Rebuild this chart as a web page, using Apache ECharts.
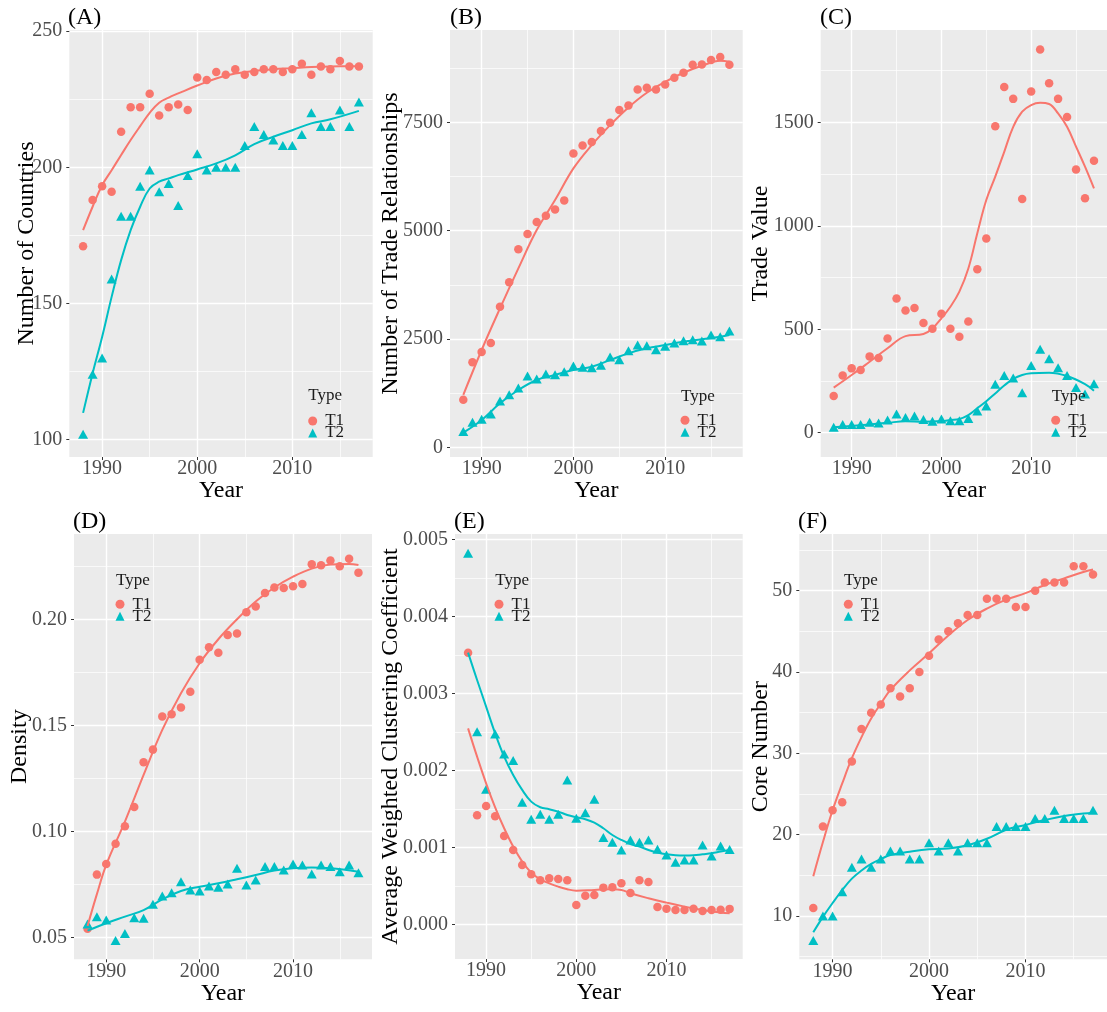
<!DOCTYPE html>
<html><head><meta charset="utf-8">
<script src="https://cdn.jsdelivr.net/npm/echarts@6/dist/echarts.min.js"></script>
<style>html,body{margin:0;padding:0;background:#fff}#c{width:1107px;height:1012px}</style>
</head><body><div id="c"></div>
<script>
// ---------------- DATA ----------------
const years = [1988,1989,1990,1991,1992,1993,1994,1995,1996,1997,1998,1999,2000,2001,2002,2003,2004,2005,2006,2007,2008,2009,2010,2011,2012,2013,2014,2015,2016,2017];
const seriesNames = ['T1', 'T2'];
const xTicks = [1990, 2000, 2010];

// (A) Number of Countries
const countriesT1 = [171,188,193,191,213,222,222,227,219,222,223,221,233,232,235,234,236,234,235,236,236,235,236,238,234,237,236,239,237,237];
const countriesT2 = [102,124,130,159,182,182,193,199,191,194,186,197,205,199,200,200,200,208,215,212,210,208,208,212,220,215,215,221,215,224];
const fitYearsA = [1988,1989,1990,1991,1992,1993,1994,1995,1996,1997,1998,2000,2002,2004,2006,2008,2010,2012,2014,2017];
const fitA_T1 = [176.9,185.5,193.4,198.9,204.5,210.0,215.1,220.0,223.7,225.6,227.1,230.0,232.6,234.4,235.4,236.0,236.4,236.8,237.0,237.1];
const fitA_T2 = [109.8,124.3,137.7,152.4,165.9,176.9,185.5,192.2,194.7,195.9,197.1,199.2,201.4,204.4,208.5,211.2,213.6,216.1,217.6,220.7];
const ticksA = [100,150,200,250];

// (B) Number of Trade Relationships
const relT1 = [1100,1962,2200,2408,3246,3808,4569,4923,5200,5346,5492,5700,6784,6969,7046,7300,7492,7784,7892,8261,8300,8261,8377,8530,8646,8830,8838,8938,9007,8830];
const relT2 = [362,577,646,769,1069,1215,1369,1646,1577,1692,1677,1746,1877,1846,1838,1892,2085,2023,2231,2361,2346,2254,2331,2408,2461,2485,2454,2592,2554,2685];
const fitYearsB = [1988,1990,1992,1994,1996,1998,2000,2002,2004,2006,2008,2010,2012,2014,2016,2017];
const fitB_T1 = [1208,2246,3208,4131,5015,5707,6438,6977,7438,7846,8184,8438,8646,8807,8923,8900];
const fitB_T2 = [338,631,1015,1323,1554,1669,1785,1861,2015,2169,2285,2361,2438,2492,2554,2592];
const ticksB = [0,2500,5000,7500];

// (C) Trade Value
const valT1 = [177,277,311,303,369,361,456,649,591,603,530,503,575,503,464,538,790,939,1482,1671,1614,1130,1650,1853,1689,1614,1526,1273,1134,1315];
const valT2 = [26,40,40,40,50,47,61,90,74,81,64,55,66,58,58,69,105,129,234,277,264,193,325,404,358,314,277,219,187,237];
const fitYearsC1 = [1988,1990,1992,1994,1996,1998,1999,2000,2001,2002,2003,2004,2005,2006,2007,2008,2009,2010,2011,2012,2013,2014,2015,2016,2017];
const fitC_T1 = [218,279,343,408,467,477,504,553,609,682,794,964,1125,1238,1358,1479,1552,1584,1595,1589,1544,1479,1383,1286,1181];
const fitYearsC2 = [1988,1990,1992,1994,1996,1998,2000,2001,2002,2003,2004,2005,2006,2007,2008,2009,2010,2012,2014,2016,2017];
const fitC_T2 = [26,32,40,48,55,53,56,61,66,85,118,152,190,228,260,279,287,290,274,235,203];
const ticksC = [0,500,1000,1500];

// (D) Density
const denT1 = [0.0542,0.0797,0.0847,0.0943,0.1025,0.1116,0.1326,0.1386,0.1542,0.1553,0.1584,0.1659,0.1809,0.1868,0.1842,0.1926,0.1933,0.2033,0.2060,0.2124,0.2150,0.2148,0.2156,0.2166,0.2260,0.2255,0.2277,0.2250,0.2285,0.2220];
const denT2 = [0.0564,0.0599,0.0583,0.0486,0.0520,0.0594,0.0591,0.0657,0.0696,0.0712,0.0764,0.0725,0.0720,0.0743,0.0737,0.0753,0.0827,0.0748,0.0772,0.0835,0.0835,0.0819,0.0847,0.0842,0.0800,0.0842,0.0835,0.0811,0.0842,0.0806];
const fitYearsD1 = [1988,1989,1990,1992,1994,1996,1998,2000,2002,2004,2006,2008,2010,2012,2014,2016,2017];
const fitD_T1 = [0.0555,0.0705,0.0843,0.1047,0.1267,0.1479,0.1652,0.1793,0.1906,0.2000,0.2084,0.2150,0.2201,0.2239,0.2258,0.2261,0.2256];
const fitYearsD2 = [1988,1990,1992,1994,1996,1998,2000,2002,2004,2006,2008,2010,2012,2014,2017];
const fitD_T2 = [0.0533,0.0568,0.0599,0.0630,0.0680,0.0720,0.0740,0.0756,0.0775,0.0795,0.0816,0.0827,0.0830,0.0827,0.0811];
const ticksD = [0.05,0.10,0.15,0.20];

// (E) Average Weighted Clustering Coefficient
const cluT1 = [0.003528,0.001416,0.001537,0.001403,0.001147,0.000965,0.000771,0.000649,0.000571,0.000597,0.000589,0.000571,0.000251,0.000372,0.000381,0.000476,0.000481,0.000532,0.000407,0.000571,0.000550,0.000225,0.000203,0.000186,0.000186,0.000203,0.000173,0.000186,0.000190,0.000200];
const cluT2 = [0.004818,0.002502,0.001753,0.002472,0.002212,0.002126,0.001584,0.001364,0.001429,0.001364,0.001429,0.001874,0.001377,0.001450,0.001623,0.001126,0.001065,0.000965,0.001095,0.001065,0.001095,0.000974,0.000900,0.000805,0.000835,0.000835,0.001030,0.000887,0.001017,0.000970];
const fitYearsE1 = [1988,1989,1990,1991,1992,1993,1994,1995,1996,1997,1998,1999,2000,2002,2004,2005,2006,2008,2010,2012,2014,2016,2017];
const fitE_T1 = [0.002545,0.002177,0.001831,0.001519,0.001247,0.001009,0.000814,0.000671,0.000584,0.000532,0.000489,0.000455,0.000437,0.000446,0.000455,0.000446,0.000403,0.000338,0.000281,0.000229,0.000186,0.000152,0.000143];
const fitYearsE2 = [1988,1989,1990,1991,1992,1993,1994,1995,1996,1997,1998,1999,2000,2001,2002,2003,2004,2005,2006,2007,2008,2009,2010,2011,2012,2013,2014,2015,2016,2017];
const fitE_T2 = [0.003528,0.003173,0.002827,0.002480,0.002177,0.001939,0.001745,0.001593,0.001520,0.001494,0.001463,0.001420,0.001390,0.001364,0.001320,0.001247,0.001160,0.001095,0.001043,0.001009,0.000965,0.000931,0.000909,0.000896,0.000892,0.000896,0.000909,0.000922,0.000944,0.000965];
const ticksE = [0,0.001,0.002,0.003,0.004,0.005];

// (F) Core Number
const coreT1 = [11,21,23,24,29,33,35,36,38,37,38,40,42,44,45,46,47,47,49,49,49,48,48,50,51,51,51,53,53,52];
const coreT2 = [7,10,10,13,16,17,16,17,18,18,17,17,19,18,19,18,19,19,19,21,21,21,21,22,22,23,22,22,22,23];
const fitYearsF = [1988,1989,1990,1991,1992,1993,1994,1995,1996,1998,2000,2002,2004,2006,2008,2010,2012,2014,2016,2017];
const fitF_T1 = [14.9,19.1,23.0,26.3,29.4,32.0,34.3,36.1,37.8,40.2,42.3,44.5,46.4,47.8,48.9,49.7,50.7,51.5,52.3,52.6];
const fitF_T2 = [8.0,9.9,11.6,13.2,14.6,15.6,16.4,17.0,17.5,17.9,18.2,18.3,18.7,19.5,20.6,21.2,21.8,22.3,22.6,22.7];
const ticksF = [10,20,30,40,50];

// ---------------- PANELS ----------------
const panels = [
  {tag:'(A)', yName:'Number of Countries', t1:countriesT1, t2:countriesT2, fy1:fitYearsA, f1:fitA_T1, fy2:fitYearsA, f2:fitA_T2, ticks:ticksA, yMin:93.6, yMax:250.4, step:50, digits:null},
  {tag:'(B)', yName:'Number of Trade Relationships', t1:relT1, t2:relT2, fy1:fitYearsB, f1:fitB_T1, fy2:fitYearsB, f2:fitB_T2, ticks:ticksB, yMin:-224, yMax:9633, step:2500, digits:null},
  {tag:'(C)', yName:'Trade Value', t1:valT1, t2:valT2, fy1:fitYearsC1, f1:fitC_T1, fy2:fitYearsC2, f2:fitC_T2, ticks:ticksC, yMin:-117.5, yMax:1947, step:500, digits:null},
  {tag:'(D)', yName:'Density', t1:denT1, t2:denT2, fy1:fitYearsD1, f1:fitD_T1, fy2:fitYearsD2, f2:fitD_T2, ticks:ticksD, yMin:0.0398, yMax:0.2402, step:0.05, digits:2},
  {tag:'(E)', yName:'Average Weighted Clustering Coefficient', t1:cluT1, t2:cluT2, fy1:fitYearsE1, f1:fitE_T1, fy2:fitYearsE2, f2:fitE_T2, ticks:ticksE, yMin:-0.000451, yMax:0.005069, step:0.001, digits:3},
  {tag:'(F)', yName:'Core Number', t1:coreT1, t2:coreT2, fy1:fitYearsF, f1:fitF_T1, fy2:fitYearsF, f2:fitF_T2, ticks:ticksF, yMin:4.68, yMax:56.97, step:10, digits:null}
];
const xRange = [1986.55, 2018.45];

// ---------------- LAYOUT ----------------
const layout = [
  {box:[69.3,30,303.4,427], yGap:31, tagAt:[68,5.5], typeAt:[308.3,387.5], legAt:[308.2,412.5]},
  {box:[450,30,292.7,427], yGap:47, tagAt:[450,5.5], typeAt:[681,388], legAt:[680.5,411.8]},
  {box:[820.7,30,291.9,427], yGap:48, tagAt:[820,5.5], typeAt:[1051.7,388], legAt:[1051.2,411.8]},
  {box:[74,534,298,425.3], yGap:42, tagAt:[73,509.5], typeAt:[116,572.2], legAt:[115.5,595.8]},
  {box:[455,534,287.7,425], yGap:52, tagAt:[454,509.5], typeAt:[495.3,572.2], legAt:[494.5,595.8]},
  {box:[799.3,534,313.8,425.3], yGap:27, tagAt:[798,509.5], typeAt:[844,572.2], legAt:[843.8,595.8]}
];
const FONT = '"Liberation Serif", "DejaVu Serif", serif';
const COL = ['#F8766D', '#00BFC4'];

const option = {animation:false, backgroundColor:'#ffffff', title:[], legend:[], grid:[], xAxis:[], yAxis:[], series:[]};

panels.forEach((p, i) => {
  const L = layout[i];
  option.grid.push({left:L.box[0], top:L.box[1], width:L.box[2], height:L.box[3], show:true, backgroundColor:'#EBEBEB', borderWidth:0});
  const common = {
    gridIndex:i, type:'value', nameLocation:'middle', nameMoveOverlap:false,
    nameTextStyle:{fontFamily:FONT, fontSize:24, color:'#000'},
    axisLine:{show:false, onZero:false},
    splitLine:{show:true, lineStyle:{color:'#ffffff', width:1.4}},
    minorTick:{show:false, splitNumber:2},
    minorSplitLine:{show:true, lineStyle:{color:'#ffffff', width:0.7}}
  };
  option.xAxis.push(Object.assign({}, common, {
    min:xRange[0], max:xRange[1], minInterval:10, maxInterval:10,
    name:'Year', nameGap:22,
    axisTick:{show:true, length:3, customValues:xTicks, lineStyle:{color:'#333333', width:1}},
    axisLabel:{customValues:xTicks, margin:2, formatter:v => String(v), color:'#4D4D4D', fontFamily:FONT, fontSize:20}
  }));
  option.yAxis.push(Object.assign({}, common, {
    min:p.yMin, max:p.yMax, minInterval:p.step, maxInterval:p.step,
    name:p.yName, nameGap:L.yGap,
    axisTick:{show:true, length:3, customValues:p.ticks, lineStyle:{color:'#333333', width:1}},
    axisLabel:{customValues:p.ticks, margin:7,
      formatter:v => p.digits == null ? String(v) : Number(v).toFixed(p.digits),
      color:'#4D4D4D', fontFamily:FONT, fontSize:20}
  }));
  option.title.push({text:p.tag, left:L.tagAt[0], top:L.tagAt[1], padding:0,
    textStyle:{fontFamily:FONT, fontSize:24, fontWeight:'normal', color:'#000'}});
  option.title.push({text:'Type', left:L.typeAt[0], top:L.typeAt[1], padding:0,
    textStyle:{fontFamily:FONT, fontSize:17, fontWeight:'normal', color:'#1a1a1a'}});
  option.legend.push({left:L.legAt[0], top:L.legAt[1], orient:'vertical', padding:0, itemGap:-5,
    itemWidth:9, itemHeight:9, selectedMode:false,
    data:[{name:'T1', icon:'circle'}, {name:'T2', icon:'triangle'}],
    textStyle:{fontFamily:FONT, fontSize:17, color:'#1a1a1a', padding:[0,0,0,3]}});
  const pts = [p.t1, p.t2];
  const fits = [[p.fy1, p.f1], [p.fy2, p.f2]];
  [0,1].forEach(k => {
    option.series.push({type:'scatter', name:seriesNames[k], xAxisIndex:i, yAxisIndex:i,
      symbol: k === 0 ? 'circle' : 'triangle', symbolSize: k === 0 ? 8.5 : [10, 9],
      itemStyle:{color:COL[k], opacity:1}, z:2,
      data: years.map((y, j) => [y, pts[k][j]])});
  });
  [0,1].forEach(k => {
    option.series.push({type:'line', name:seriesNames[k], xAxisIndex:i, yAxisIndex:i,
      showSymbol:false, smooth:0.4, z:3, clip:true,
      lineStyle:{color:COL[k], width:2}, itemStyle:{color:COL[k]},
      data: fits[k][0].map((y, j) => [y, fits[k][1][j]])});
  });
});

const chart = echarts.init(document.getElementById('c'), null, {renderer:'canvas', width:1107, height:1012});
chart.setOption(option);
</script>
</body></html>
